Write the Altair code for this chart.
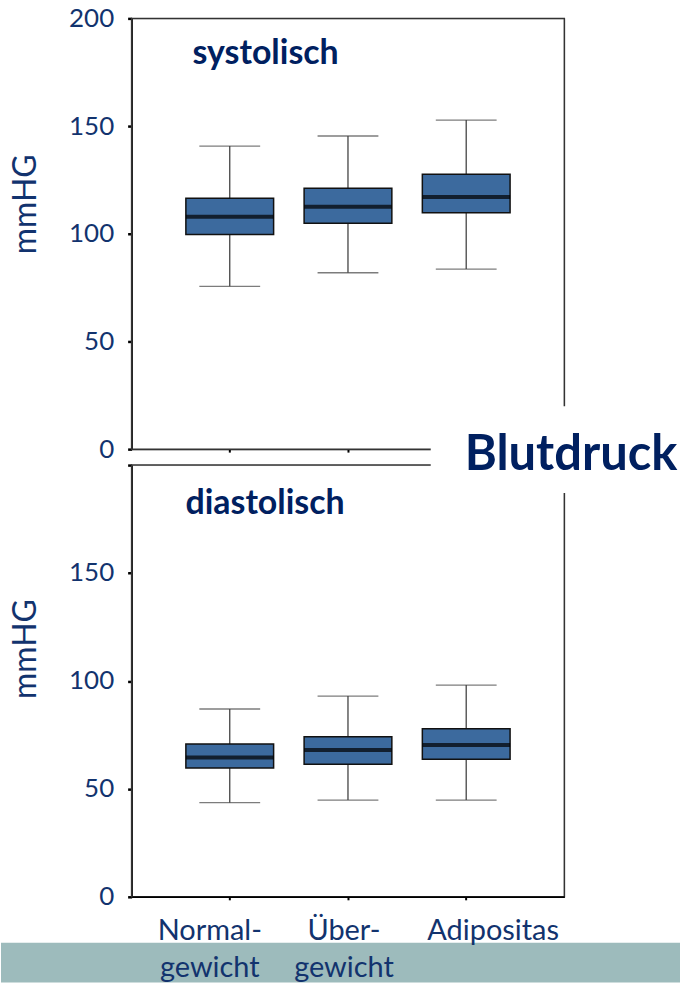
import json
import altair as alt
import pandas as pd

# ---------------- data ----------------
categories = ["Normalgewicht", "Übergewicht", "Adipositas"]
label_lines = [["Normal-", "gewicht"], ["Über-", "gewicht"], ["Adipositas"]]
label_shift = [-20, -4, 27]

sys_min = [75.6, 81.9, 83.6]
sys_q1 = [99.7, 104.9, 109.7]
sys_med = [107.9, 112.5, 117.1]
sys_q3 = [116.5, 121.1, 127.6]
sys_max = [140.7, 145.4, 152.8]

dia_min = [43.6, 44.8, 44.8]
dia_q1 = [59.7, 61.4, 63.7]
dia_med = [64.5, 68.0, 70.3]
dia_q3 = [70.8, 74.2, 77.8]
dia_max = [87.0, 93.0, 98.1]

y_ticks = [0, 50, 100, 150, 200]
y_title = "mmHG"
panel_titles = ["systolisch", "diastolisch"]
headline = "Blutdruck"

# ---------------- style ----------------
W, H = 434, 432
FONT = "Lato"
LABEL_NAVY = "#12336e"
TITLE_NAVY = "#002060"
BOX_FILL = "#3c6a9e"
BAND = "#9dbbbc"


def make_df(mn, q1, med, q3, mx):
    return pd.DataFrame({"cat": categories, "lo": mn, "q1": q1,
                         "med": med, "q3": q3, "hi": mx})


label_expr = ""
for c, lines in zip(categories, label_lines):
    label_expr += f"datum.value == '{c}' ? {json.dumps(lines, ensure_ascii=False)} : "
label_expr += "datum.label"

label_offset = {
    "condition": [{"test": f"datum.value == '{c}'", "value": s}
                  for c, s in zip(categories, label_shift)],
    "value": 0,
}


def panel(df, title, title_x, title_y, bottom):
    x_axis = alt.Axis(
        title=None, labels=bottom, ticks=True, tickSize=3, tickWidth=2,
        tickColor="black", domain=True, domainColor="black", domainWidth=1.5,
        labelAngle=0, labelFont=FONT, labelFontSize=29, labelColor=LABEL_NAVY,
        labelPadding=17, labelLineHeight=37, labelExpr=label_expr,
        labelOffset=label_offset, zindex=1 if bottom else 0, grid=False,
    )
    y_axis = alt.Axis(
        title=y_title, values=y_ticks, tickSize=4, tickWidth=2.5,
        tickColor="black", domainColor="black", domainWidth=1.5, grid=False,
        labelFont=FONT, labelFontSize=26, labelColor=LABEL_NAVY, labelPadding=14,
        labelExpr=("datum.value == 200 ? '' : datum.label") if bottom else "datum.label",
        titleFont=FONT, titleFontSize=32, titleFontWeight="normal",
        titleColor=LABEL_NAVY, titleX=-96, titleY=186 if not bottom else 184,
        titleAlign="center", titleBaseline="alphabetic", titleAngle=-90,
    )
    xs = alt.Scale(domain=categories, paddingInner=0, paddingOuter=0.33)
    ys = alt.Scale(domain=[0, 200], nice=False)
    X = alt.X("cat:N", scale=xs, axis=x_axis, sort=categories)

    def Y(f):
        return alt.Y(f"{f}:Q", scale=ys, axis=y_axis)

    base = alt.Chart(df)
    one = pd.DataFrame({"t": [title]})

    frame = alt.Chart(one).mark_rect(filled=False, stroke="#333", strokeWidth=1.5).encode(
        x=alt.value(0), x2=alt.value("width"), y=alt.value(0), y2=alt.value("height"))
    whisk = base.mark_rule(color="#444", strokeWidth=1.3).encode(x=X, y=Y("lo"), y2="hi:Q")
    cap_lo = base.mark_tick(orient="horizontal", size=61, thickness=1.3, color="#444").encode(x=X, y=Y("lo"))
    cap_hi = base.mark_tick(orient="horizontal", size=61, thickness=1.3, color="#444").encode(x=X, y=Y("hi"))
    box = base.mark_bar(width=88, color=BOX_FILL, stroke="#111111", strokeWidth=1.5).encode(
        x=X, y=Y("q1"), y2="q3:Q")
    med = base.mark_tick(orient="horizontal", size=88, thickness=4, color="black").encode(x=X, y=Y("med"))
    ttl = alt.Chart(one).mark_text(font=FONT, fontSize=34, fontWeight="bold", color=TITLE_NAVY,
                                   align="left", baseline="alphabetic").encode(
        text="t:N", x=alt.value(title_x), y=alt.value(title_y))

    layers = [frame, whisk, cap_lo, cap_hi, box, med, ttl]
    if bottom:
        band = alt.Chart(one).mark_rect(color=BAND, clip=False).encode(
            x=alt.value(-131), x2=alt.value(550), y=alt.value(479), y2=alt.value(519))
        white = alt.Chart(one).mark_rect(color="white", clip=False).encode(
            x=alt.value(300), x2=alt.value(550), y=alt.value(-59), y2=alt.value(28))
        head = alt.Chart(pd.DataFrame({"t": [headline]})).mark_text(
            font=FONT, fontSize=49, fontWeight="bold", color=TITLE_NAVY,
            align="left", baseline="alphabetic", clip=False).encode(
            text="t:N", x=alt.value(334), y=alt.value(5))
        layers = [band] + layers + [white, head]
    return alt.layer(*layers).properties(width=W, height=H if not bottom else 433)


top = panel(make_df(sys_min, sys_q1, sys_med, sys_q3, sys_max), panel_titles[0], 61, 46, False)
bot = panel(make_df(dia_min, dia_q1, dia_med, dia_q3, dia_max), panel_titles[1], 54, 49, True)

chart = alt.vconcat(top, bot, spacing=16, bounds="flush").properties(
    padding={"top": 3, "left": 0, "right": 0, "bottom": 0},
    background="white",
).configure_view(strokeWidth=0).configure(font=FONT)

chart.save("out.html", embed_options={"renderer": "svg", "actions": False})
